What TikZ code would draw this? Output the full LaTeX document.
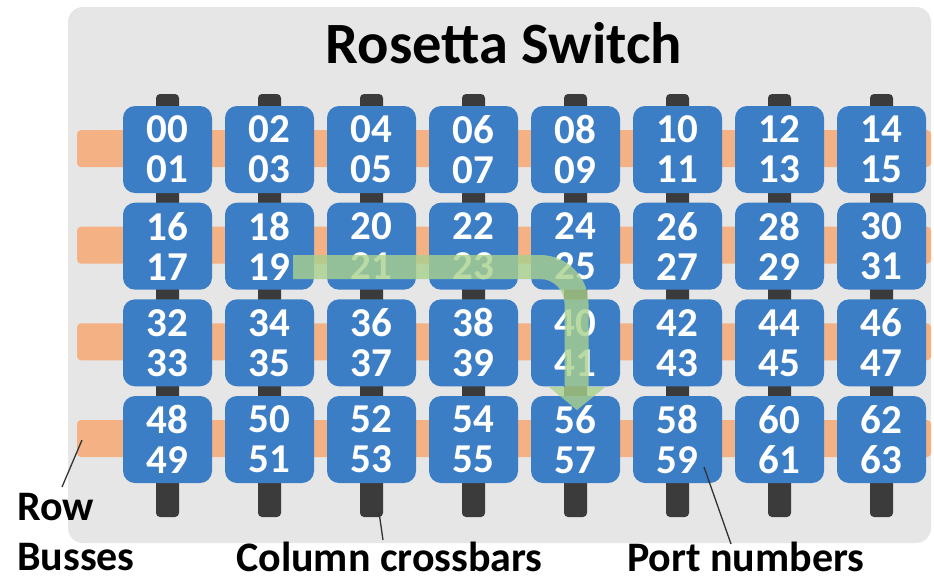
\documentclass[tikz,border=0pt]{standalone}
\usepackage{fontspec}
\setmainfont{Carlito}
\definecolor{panelgray}{HTML}{E7E6E6}
\definecolor{busorange}{HTML}{F4B183}
\definecolor{barblack}{HTML}{3B3B3B}
\definecolor{boxblue}{HTML}{3C7EC6}
\definecolor{arrowgreen}{HTML}{A9D18E}
\definecolor{leadergray}{HTML}{333333}
\begin{document}
\begin{tikzpicture}[x=1pt,y=-1pt,
  panel/.style={fill=panelgray, rounded corners=15pt},
  busbar/.style={fill=busorange, rounded corners=4pt, minimum width=854pt, minimum height=37pt, inner sep=0pt, draw=none},
  xbar/.style={fill=barblack, rounded corners=4pt, minimum width=23pt, minimum height=423pt, inner sep=0pt, draw=none},
  port/.style={fill=boxblue, rounded corners=12pt, minimum width=89pt, minimum height=87pt, inner sep=0pt, text=white, align=center, font=\bfseries\fontsize{41}{40}\selectfont},
  lbl/.style={anchor=base west, inner sep=0pt, font=\bfseries\fontsize{42}{48}\selectfont},
  leader/.style={draw=leadergray, line width=1.3pt},
  route/.style={fill=arrowgreen, fill opacity=0.8}
]
\useasboundingbox (0,0) rectangle (934,581);
% panel
\fill[panel] (68,7) rectangle (931,543);
% title
\node[anchor=base, inner sep=0pt, font=\bfseries\fontsize{58.5}{64}\selectfont] (title) at (504,63) {Rosetta Switch};
% row busses
\foreach \r in {0,...,3} {
  \node[busbar] (bus\r) at (504,{148.5+96.67*\r}) {};
}
% column crossbars
\foreach \c in {0,...,7} {
  \node[xbar] (bar\c) at ({167.5+102*\c},305.5) {};
}
% ports
\foreach \r in {0,...,3} {
  \foreach \c in {0,...,7} {
    \pgfmathtruncatemacro{\pa}{16*\r+2*\c}
    \pgfmathtruncatemacro{\pb}{\pa+1}
    \node[port] (p\r\c) at ({167.5+102*\c},{149.5+96.67*\r})
      {\ifnum\pa<10 0\fi\pa\\\ifnum\pb<10 0\fi\pb};
  }
}
% routing arrow
\fill[route] (293,255) -- (540,255)
  .. controls (566.8,255) and (588.5,276.7) .. (588.5,303.5)
  -- (588.5,387) -- (605,387) -- (577,410) -- (549,387) -- (564.5,387)
  -- (564.5,303.5)
  .. controls (564.5,290) and (553.5,279) .. (540,279)
  -- (293,279) -- cycle;
% labels
\node[lbl] (rowlbl) at (17,520) {Row};
\node[lbl] (busseslbl) at (17,570) {Busses};
\node[lbl] (collbl) at (236,571) {Column crossbars};
\node[lbl] (portlbl) at (627,571) {Port numbers};
% leader lines
\coordinate (rbA) at (82,440);
\coordinate (rbB) at (62,487);
\coordinate (cbA) at (379,512);
\coordinate (cbB) at (383,540);
\coordinate (pnA) at (704,467);
\coordinate (pnB) at (731,544);
\draw[leader] (rbA) -- (rbB);
\draw[leader] (cbA) -- (cbB);
\draw[leader] (pnA) -- (pnB);
\end{tikzpicture}
\end{document}
